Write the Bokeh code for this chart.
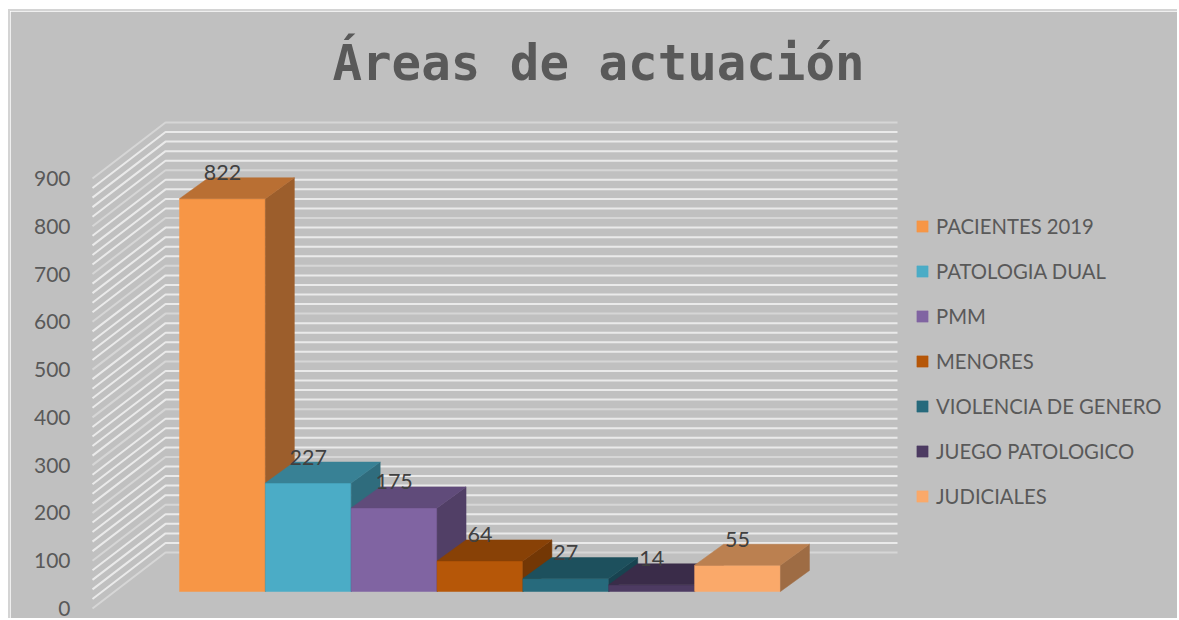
from bokeh.plotting import figure
from bokeh.models import Range1d, FixedTicker, Legend, LegendItem, Title
from bokeh.core.properties import value
from bokeh.embed import file_html
from bokeh.resources import INLINE

# ---- data
categories = ["PACIENTES 2019", "PATOLOGIA DUAL", "PMM", "MENORES",
              "VIOLENCIA DE GENERO", "JUEGO PATOLOGICO", "JUDICIALES"]
patients = [822, 227, 175, 64, 27, 14, 55]
y_ticks = [0, 100, 200, 300, 400, 500, 600, 700, 800, 900]
minor_step = 20
front_colors = ["#F79646", "#4BACC6", "#8064A2", "#B65708", "#276A7C", "#4D3B62", "#FAA96A"]
side_colors = ["#9C5E2C", "#2F6C7D", "#513F66", "#733705", "#184350", "#312540", "#9E6C44"]
top_colors = ["#B96F33", "#388195", "#604B7A", "#884106", "#1D505D", "#3A2C49", "#BB8050"]

TITLE = "Áreas de actuación"
INK = "#595959"
BG = "#C0C0C0"

# ---- geometry of the 3D projection
W, H = 1169, 609
TOP_PANEL = 97
LEFT_PANEL = 70
PX_PER_UNIT_X = 85.85
PX_PER_UNIT_Y = 0.4778
frame_w = W - LEFT_PANEL
frame_h = H - TOP_PANEL
x_start = -99 / PX_PER_UNIT_X
y_start = -12 / PX_PER_UNIT_Y

wall_dx, wall_dy = 73 / PX_PER_UNIT_X, 56 / PX_PER_UNIT_Y
wall_left = -87 / PX_PER_UNIT_X
wall_right = 718 / PX_PER_UNIT_X
bar_dx, bar_dy = 29 / PX_PER_UNIT_X, 21 / PX_PER_UNIT_Y
floor = 17 / PX_PER_UNIT_Y

p = figure(width=W, height=H, output_backend="svg", toolbar_location=None,
           x_range=Range1d(x_start, x_start + frame_w / PX_PER_UNIT_X),
           y_range=Range1d(y_start, y_start + frame_h / PX_PER_UNIT_Y),
           min_border_left=LEFT_PANEL, min_border_top=TOP_PANEL,
           min_border_right=0, min_border_bottom=0,
           background_fill_color=BG, border_fill_color=BG,
           outline_line_color=BG, outline_line_width=2,
           styles={"margin-left": "8px", "margin-top": "9px",
                   "border-left": "2px solid #D4D4D4", "border-top": "2px solid #D4D4D4"})
p.title = Title(text=TITLE, text_font="DejaVu Sans Mono", text_font_style="bold",
                text_font_size="49.1px", text_color=INK, align="left", offset=252,
                vertical_align="top", standoff=30)

p.xaxis.visible = False
p.grid.visible = False
p.yaxis.ticker = FixedTicker(ticks=y_ticks)
p.yaxis.axis_line_color = None
p.yaxis.major_tick_line_color = None
p.yaxis.minor_tick_line_color = None
p.yaxis.major_label_standoff = 4
p.yaxis.major_label_text_font = "Lato"
p.yaxis.major_label_text_font_size = "21px"
p.yaxis.major_label_text_color = INK
p.yaxis.major_label_text_line_height = 1.0

# walls: minor gridlines are brighter than the major ones
levels = list(range(0, y_ticks[-1] + 1, minor_step))
for subset, colour, lw in [([v for v in levels if v % 100], "#EAEAEA", 2),
                           ([v for v in levels if v % 100 == 0], "#D6D6D6", 2)]:
    p.multi_line(
        xs=[[wall_left, wall_left + wall_dx, wall_right] for _ in subset],
        ys=[[v, v + wall_dy, v + wall_dy] for v in subset],
        line_color=colour, line_width=lw)

# bars
items = []
for i, (name, val) in enumerate(zip(categories, patients)):
    top = floor + val
    front = p.quad(left=[i], right=[i + 1], bottom=[floor], top=[top],
                   fill_color=front_colors[i], line_color=front_colors[i], line_width=0.5)
    p.patch([i + 1, i + 1 + bar_dx, i + 1 + bar_dx, i + 1],
            [floor, floor + bar_dy, top + bar_dy, top],
            fill_color=side_colors[i], line_color=side_colors[i], line_width=0.5)
    p.patch([i, i + bar_dx, i + 1 + bar_dx, i + 1],
            [top, top + bar_dy, top + bar_dy, top],
            fill_color=top_colors[i], line_color=top_colors[i], line_width=0.5)
    items.append(LegendItem(label=name, renderers=[front]))

# data labels
p.text(x=[i + 0.5 for i in range(len(patients))],
       y=[floor + v + 26 / PX_PER_UNIT_Y for v in patients],
       text=[str(v) for v in patients],
       text_font=value("Lato"), text_font_size="21.5px", text_color="#404040",
       text_align="center", text_baseline="middle")

legend = Legend(items=items, location=(835, 112), orientation="vertical",
                background_fill_alpha=0, border_line_color=None,
                glyph_width=14, glyph_height=14, label_standoff=7,
                label_text_font="Lato", label_text_font_size="20.3px",
                label_text_color=INK, padding=0, margin=0, spacing=20,
                label_height=25)
p.add_layout(legend, "center")

open("out.html", "w").write(file_html(p, INLINE))
